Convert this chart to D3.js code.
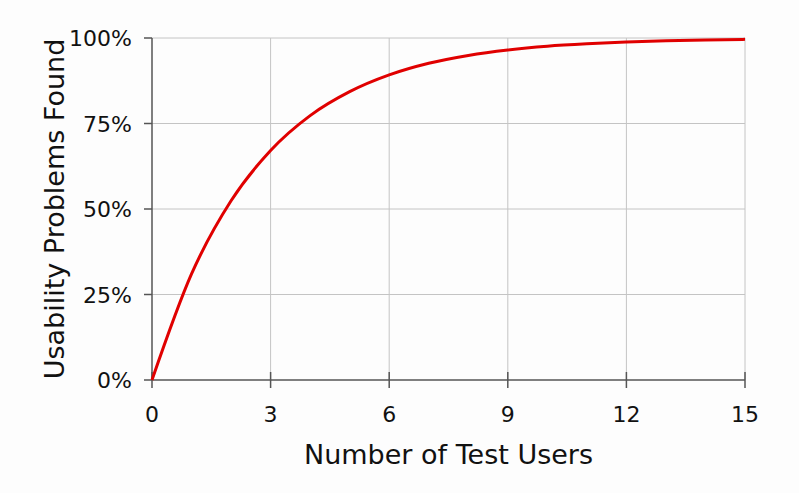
<!DOCTYPE html>
<html><head><meta charset="utf-8">
<script src="https://cdn.jsdelivr.net/npm/d3@7"></script>
<style>body{margin:0;background:#fdfdfd;}svg{display:block;}text{font-family:"DejaVu Sans",Verdana,sans-serif;fill:#111;}</style>
</head><body>
<svg id="c" width="799" height="493"></svg>
<script>
const users = [0,1,2,3,4,5,6,7,8,9,10,11,12,13,14,15];
const found = [0,0.31,0.524,0.671,0.773,0.843,0.892,0.926,0.949,0.965,0.976,0.983,0.988,0.992,0.994,0.996];
const xTicks = [0,3,6,9,12,15];
const yTicks = [0,0.25,0.5,0.75,1];
const xTitle = "Number of Test Users";
const yTitle = "Usability Problems Found";

const svg = d3.select("#c");
const x = d3.scaleLinear().domain([0,15]).range([152,745]);
const y = d3.scaleLinear().domain([0,1]).range([380,38]);

// gridlines
svg.append("g").selectAll("line").data(xTicks.filter(d=>d>0)).join("line")
  .attr("x1",d=>x(d)).attr("x2",d=>x(d)).attr("y1",y(0)).attr("y2",y(1))
  .attr("stroke","#c4c4c4").attr("stroke-width",1);
svg.append("g").selectAll("line").data(yTicks.filter(d=>d>0)).join("line")
  .attr("x1",x(0)).attr("x2",x(15)).attr("y1",d=>y(d)).attr("y2",d=>y(d))
  .attr("stroke","#c4c4c4").attr("stroke-width",1);

// axes
const ax = svg.append("g").attr("stroke","#555").attr("stroke-width",1.5);
ax.append("line").attr("x1",x(0)).attr("x2",x(15)).attr("y1",y(0)).attr("y2",y(0));
ax.append("line").attr("x1",x(0)).attr("x2",x(0)).attr("y1",y(0)).attr("y2",y(1));
ax.selectAll(".xt").data(xTicks).join("line").attr("class","xt")
  .attr("x1",d=>x(d)).attr("x2",d=>x(d)).attr("y1",y(0)-8).attr("y2",y(0)+8);
ax.selectAll(".yt").data(yTicks).join("line").attr("class","yt")
  .attr("x1",x(0)-8).attr("x2",x(0)).attr("y1",d=>y(d)).attr("y2",d=>y(d));

// tick labels
svg.append("g").selectAll("text").data(xTicks).join("text")
  .attr("x",d=>x(d)).attr("y",422).attr("text-anchor","middle")
  .attr("font-size",22).text(d=>d);
svg.append("g").selectAll("text").data(yTicks).join("text")
  .attr("x",x(0)-20).attr("y",d=>y(d)+8).attr("text-anchor","end")
  .attr("font-size",22).text(d=>Math.round(d*100)+"%");

// titles
svg.append("text").attr("x",(x(0)+x(15))/2).attr("y",464).attr("text-anchor","middle")
  .attr("font-size",27).text(xTitle);
svg.append("text").attr("transform",`translate(64,${(y(0)+y(1))/2}) rotate(-90)`)
  .attr("text-anchor","middle").attr("font-size",27).text(yTitle);

// line
const line = d3.line().x((d,i)=>x(users[i])).y(d=>y(d)).curve(d3.curveMonotoneX);
svg.append("path").datum(found).attr("d",line).attr("fill","none")
  .attr("stroke","#e00000").attr("stroke-width",3);
</script>
</body></html>
